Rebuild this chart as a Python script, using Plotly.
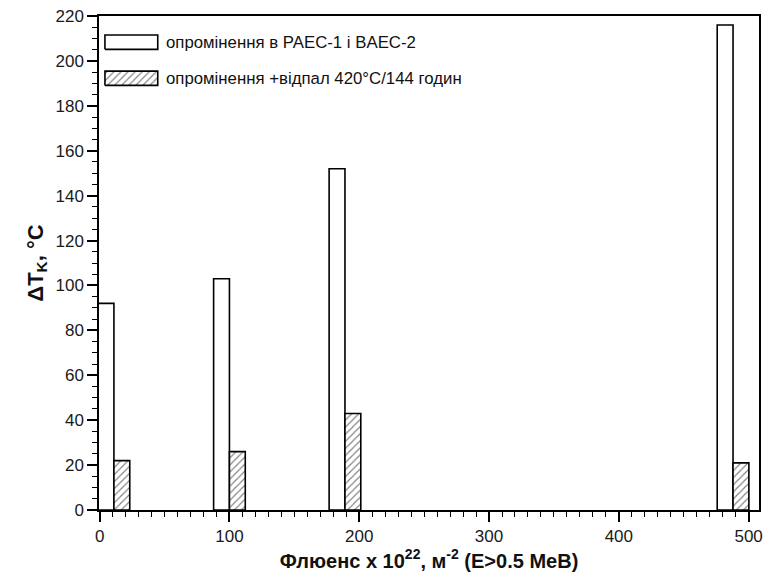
import plotly.graph_objects as go

# Fluence groups (x 10^22 m^-2, E>0.5 MeV) and transition temperature shifts
fluence = [11, 100, 189, 488]
dtk_irradiated = [92, 103, 152, 216]
dtk_annealed = [22, 26, 43, 21]

series_names = [
    "опромінення в PAEC-1 і BAEC-2",
    "опромінення +відпал 420°C/144 годин",
]

x_ticks = [0, 100, 200, 300, 400, 500]
y_ticks = list(range(0, 221, 20))

BAR_W = 12.2
FONT = "Liberation Sans, Arial, sans-serif"
HATCH = dict(shape="/", fgcolor="black", bgcolor="white", size=5, solidity=0.22)

fig = go.Figure()

fig.add_trace(go.Bar(
    x=fluence, y=dtk_irradiated, name=series_names[0],
    width=BAR_W, offset=-BAR_W,
    marker=dict(color="white", line=dict(color="black", width=1.6)),
    showlegend=False,
))
fig.add_trace(go.Bar(
    x=fluence, y=dtk_annealed, name=series_names[1],
    width=BAR_W, offset=0,
    marker=dict(color="white", line=dict(color="black", width=1.6), pattern=HATCH),
    showlegend=False,
))

# Legend keys drawn in an overlay axis spanning the plot area (0..1)
key_x0, key_x1 = 0.009, 0.089
key_rows = [0.947, 0.874]
key_h = 0.029
for i, yc in enumerate(key_rows):
    xs = [key_x0, key_x1, key_x1, key_x0, key_x0]
    ys = [yc - key_h / 2, yc - key_h / 2, yc + key_h / 2, yc + key_h / 2, yc - key_h / 2]
    kw = dict(fillcolor="white") if i == 0 else dict(fillpattern=HATCH)
    fig.add_trace(go.Scatter(
        x=xs, y=ys, xaxis="x2", yaxis="y2", mode="lines", fill="toself",
        line=dict(color="black", width=1.6), hoverinfo="skip",
        showlegend=False, **kw,
    ))
    fig.add_annotation(
        x=key_x1 + 0.009, y=yc, xref="x2", yref="y2", text=series_names[i],
        showarrow=False, xanchor="left", yanchor="middle",
        font=dict(family=FONT, size=16.8, color="#111"),
    )

axis_common = dict(
    showgrid=False, zeroline=False, showline=True, linecolor="black",
    linewidth=1.5, mirror=True, ticks="outside", ticklen=10, tickwidth=1.5,
    tickcolor="black", tickfont=dict(family=FONT, size=17, color="#1a1a1a"),
)

fig.update_layout(
    width=768, height=583,
    margin=dict(l=99, r=5, t=16, b=73),
    paper_bgcolor="white", plot_bgcolor="white",
    barmode="overlay",
    xaxis=dict(
        range=[-0.5, 508], tickvals=x_ticks,
        minor=dict(dtick=10, ticklen=5, tickwidth=1.3, tickcolor="black", ticks="outside"),
        title=dict(text="<b>Флюенс x 10<sup>22</sup>, м<sup>-2</sup> (E>0.5 MeB)</b>",
                   font=dict(family=FONT, size=20, color="#111"), standoff=6),
        **axis_common,
    ),
    yaxis=dict(
        range=[0, 220], tickvals=y_ticks,
        minor=dict(dtick=5, ticklen=5, tickwidth=1.3, tickcolor="black", ticks="outside"),
        title=dict(text="<b>ΔT<sub>K</sub>, °C</b>",
                   font=dict(family=FONT, size=22, color="#111"), standoff=6),
        **axis_common,
    ),
    xaxis2=dict(overlaying="x", range=[0, 1], visible=False, fixedrange=True),
    yaxis2=dict(overlaying="y", range=[0, 1], visible=False, fixedrange=True),
)

fig.write_html("out.html")
